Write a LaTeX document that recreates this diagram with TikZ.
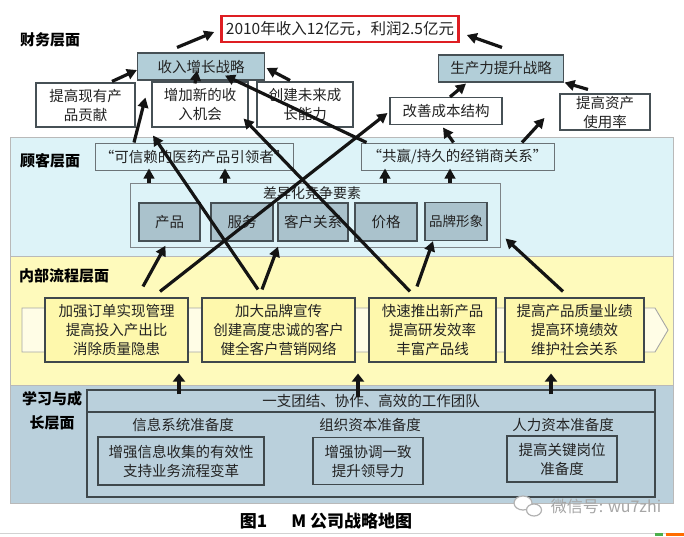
\documentclass[tikz,border=0pt]{standalone}
\usepackage{fontspec}
\newfontfamily\cjk{Noto Sans CJK SC}
\usetikzlibrary{arrows.meta,calc}
\definecolor{custbg}{RGB}{221,243,248}
\definecolor{intbg}{RGB}{254,250,188}
\definecolor{learnbg}{RGB}{186,208,220}
\definecolor{stratfill}{RGB}{178,206,216}
\definecolor{elemfill}{RGB}{170,194,204}
\definecolor{boxline}{RGB}{70,80,85}
\definecolor{txt}{RGB}{35,35,35}
\definecolor{chevfill}{RGB}{255,253,230}
\definecolor{procfill}{RGB}{254,248,172}
\definecolor{goalred}{RGB}{222,30,35}
\begin{document}
\begin{tikzpicture}[x=1pt,y=-1pt,
  base/.style={font=\cjk\fontsize{14.5}{19}\selectfont, text=txt, align=center, inner sep=0pt},
  plainbox/.style={base, draw=boxline, line width=1.1pt, fill=white},
  stratbox/.style={base, draw=boxline, line width=1.1pt, fill=stratfill},
  goalbox/.style={base, font=\cjk\fontsize{15.5}{19}\selectfont, draw=goalred, line width=2.6pt, fill=white},
  quotebox/.style={base, draw=boxline!80, line width=1pt, fill=custbg},
  diffbox/.style={base, draw=boxline!70, line width=1pt, fill=custbg},
  elembox/.style={base, draw=boxline, line width=1.3pt, fill=elemfill},
  procbox/.style={base, draw=boxline!90!black, line width=1.1pt, fill=procfill},
  learnbox/.style={base, draw=boxline!90!black, line width=1.1pt, fill=learnbg},
  lbl/.style={base, font=\cjk\bfseries\fontsize{15}{24}\selectfont, text=black},
  arr/.style={line width=3.2pt, draw=black!92, -{Triangle[length=10pt,width=10.5pt]}},
  uparr/.style={line width=3.8pt, draw=black!92, -{Triangle[length=8pt,width=12pt]}},
  band/.style={draw=gray!55, line width=0.8pt}
]
\useasboundingbox (0,0) rectangle (684,536);
\fill[white] (0,0) rectangle (684,536);

% layer bands
\filldraw[band, fill=custbg] (10,137) rectangle (673,256);
\filldraw[band, fill=intbg] (10,256) rectangle (673,385);
\filldraw[band, fill=learnbg] (10,385) rectangle (673,503);

% layer labels
\node[lbl] (lf) at (50,40) {财务层面};
\node[lbl] (lc) at (50,161) {顾客层面};
\node[lbl] (lp) at (64,276) {内部流程层面};
\node[lbl] (ll) at (52,411) {学习与成\\长层面};

% financial layer
\node[goalbox, minimum width=237, minimum height=26] (goal) at (340,29) {2010年收入12亿元，利润2.5亿元};
\node[stratbox, minimum width=127, minimum height=27] (f1) at (201,66.5) {收入增长战略};
\node[stratbox, minimum width=125, minimum height=27] (f2) at (501,68.5) {生产力提升战略};
\node[plainbox, minimum width=99, minimum height=44] (f3) at (85.5,105) {提高现有产\\品贡献};
\node[plainbox, minimum width=96, minimum height=45] (f4) at (200,104.5) {增加新的收\\入机会};
\node[plainbox, minimum width=96, minimum height=45] (f5) at (305,104.5) {创建未来成\\长能力};
\node[plainbox, minimum width=112, minimum height=27] (f6) at (446,111) {改善成本结构};
\node[plainbox, minimum width=90, minimum height=36] (f7) at (605,112) {提高资产\\使用率};

% customer layer
\node[quotebox, minimum width=198, minimum height=27] (q1) at (194,156.5) {“可信赖的医药产品引领者”};
\node[quotebox, minimum width=193, minimum height=27] (q2) at (457.5,156.5) {“共赢/持久的经销商关系”};
\node[diffbox, minimum width=370, minimum height=64] (diff) at (315,215) {};
\node[base, font=\cjk\fontsize{14}{18}\selectfont] (difft) at (312,193) {差异化竞争要素};
\node[elembox, minimum width=61, minimum height=38] (c1) at (169.5,222) {产品};
\node[elembox, minimum width=62, minimum height=38] (c2) at (242,222) {服务};
\node[elembox, minimum width=70, minimum height=38] (c3) at (313,222) {客户关系};
\node[elembox, minimum width=62, minimum height=38] (c4) at (386,222) {价格};
\node[elembox, minimum width=62, minimum height=38, font=\cjk\fontsize{13.5}{18}\selectfont] (c5) at (456,221.5) {品牌形象};

% internal process layer
\filldraw[draw=gray!70, line width=0.9pt, fill=chevfill] (22,308) -- (655,308) -- (668,330) -- (655,352) -- (22,352) -- cycle;
\node[procbox, minimum width=143, minimum height=64] (p1) at (116.5,330) {加强订单实现管理\\提高投入产出比\\消除质量隐患};
\node[procbox, minimum width=153, minimum height=64] (p2) at (278.5,330) {加大品牌宣传\\创建高度忠诚的客户\\健全客户营销网络};
\node[procbox, minimum width=127, minimum height=64] (p3) at (432.5,330) {快速推出新产品\\提高研发效率\\丰富产品线};
\node[procbox, minimum width=139, minimum height=64] (p4) at (574.5,330) {提高产品质量业绩\\提高环境绩效\\维护社会关系};

% learning layer
\node[learnbox, minimum width=568, minimum height=107] (lo) at (371,443.5) {};
\node[learnbox, minimum width=568, minimum height=22] (team) at (371,401) {一支团结、协作、高效的工作团队};
\node[base] (h1) at (183,425) {信息系统准备度};
\node[base] (h2) at (370,425) {组织资本准备度};
\node[base] (h3) at (563,425) {人力资本准备度};
\node[learnbox, minimum width=166, minimum height=48] (l1) at (181,461) {增强信息收集的有效性\\支持业务流程变革};
\node[learnbox, minimum width=110, minimum height=47] (l2) at (368,461) {增强协调一致\\提升领导力};
\node[learnbox, minimum width=110, minimum height=46] (l3) at (562,459) {提高关键岗位\\准备度};

% arrows: financial
\draw[arr] ($(f1.north)+(-24,-5)$) -- ($(goal.west)+(-6,3)$);
\draw[arr] ($(f2.north)+(1,-7)$) -- ($(goal.east)+(7,6)$);
\draw[arr] ($(f3.north)+(26.5,-1)$) -- ($(f1.west)+(0,3.5)$);
\draw[arr] ($(f4.north)+(-5,2)$) -- ($(f1.south)+(-4,-10)$);
\draw[arr] ($(f5.north)+(-15,-1)$) -- ($(f1.east)+(1.5,1.5)$);
\draw[arr] ($(f6.north)+(4,0)$) -- ($(f2.south)+(-35,1)$);
\draw[arr] ($(f7.north)+(-17,-4)$) -- ($(f2.south east)+(0.5,0)$);

% arrows: customer
\draw[arr] ($(diff.north)+(-166,0)$) -- ($(q1.south)+(-45,-2)$);
\draw[arr] ($(diff.north)+(-90,0)$) -- ($(q1.south)+(31,-2)$);
\draw[arr] ($(diff.north)+(70,0)$) -- ($(q2.south)+(-72.5,-2)$);
\draw[arr] ($(diff.north)+(135,0)$) -- ($(q2.south)+(-7.5,-2)$);
\draw[arr] ($(q1.north)+(-60,0)$) -- ($(f4.west)+(-6,-7)$);
\draw[arr] ($(q2.north west)+(6,0)$) -- ($(f1.south)+(24,-5)$);
\draw[arr] ($(q2.north)+(-4,0)$) -- ($(f6.south)+(-3,2.5)$);
\draw[arr] ($(q2.north)+(64.5,0)$) -- ($(f7.west)+(-15,6)$);

% arrows: internal
\draw[arr] ($(p1.north)+(26.5,-11)$) -- ($(c1.south)+(-4,4)$);
\draw[arr] ($(p1.north)+(43.5,-6)$) -- ($(f6.west)+(-2,2)$);
\draw[arr] ($(p2.north)+(-20.5,-8)$) -- ($(f4.south)+(-47,8)$);
\draw[arr] ($(p2.north)+(-16.5,-8)$) -- ($(c3.south)+(-35,5)$);
\draw[arr] ($(p3.north)+(-22.5,-6)$) -- ($(f4.south east)+(-5,-9)$);
\draw[arr] ($(p3.north)+(-15.5,-11)$) -- ($(c5.south)+(-23,0)$);
\draw[arr] ($(p4.north)+(-11.5,-6)$) -- ($(diff.south east)+(5,-9)$);

% arrows: learning
\draw[uparr] ($(team.north)+(-192,5)$) -- ($(p1.south)+(62.5,11)$);
\draw[uparr] ($(team.north)+(-13,8)$) -- ($(p2.south)+(79.5,11)$);
\draw[uparr] ($(team.north)+(180,5)$) -- ($(p4.south)+(-23.5,11)$);

% caption and watermark
\node[base, font=\cjk\bfseries\fontsize{17}{20}\selectfont, text=black] (cap) at (326,521) {图1\hspace{24pt}M 公司战略地图};
\filldraw[draw=gray!60, line width=1.2pt, fill=white] (523,503) ellipse [x radius=9, y radius=7];
\filldraw[draw=gray!60, line width=1.2pt, fill=white] (534,510) ellipse [x radius=7.5, y radius=6];
\node[base, font=\cjk\fontsize{16}{18}\selectfont, text=gray!70] (wm) at (606,506) {微信号: wu7zhi};
\draw[gray!35, line width=0.8pt] (0,533) -- (684,533);
\fill[green!55!black!70] (655,533) rectangle (663,536);
\fill[orange!85!red] (666,533) rectangle (684,536);
\end{tikzpicture}
\end{document}
